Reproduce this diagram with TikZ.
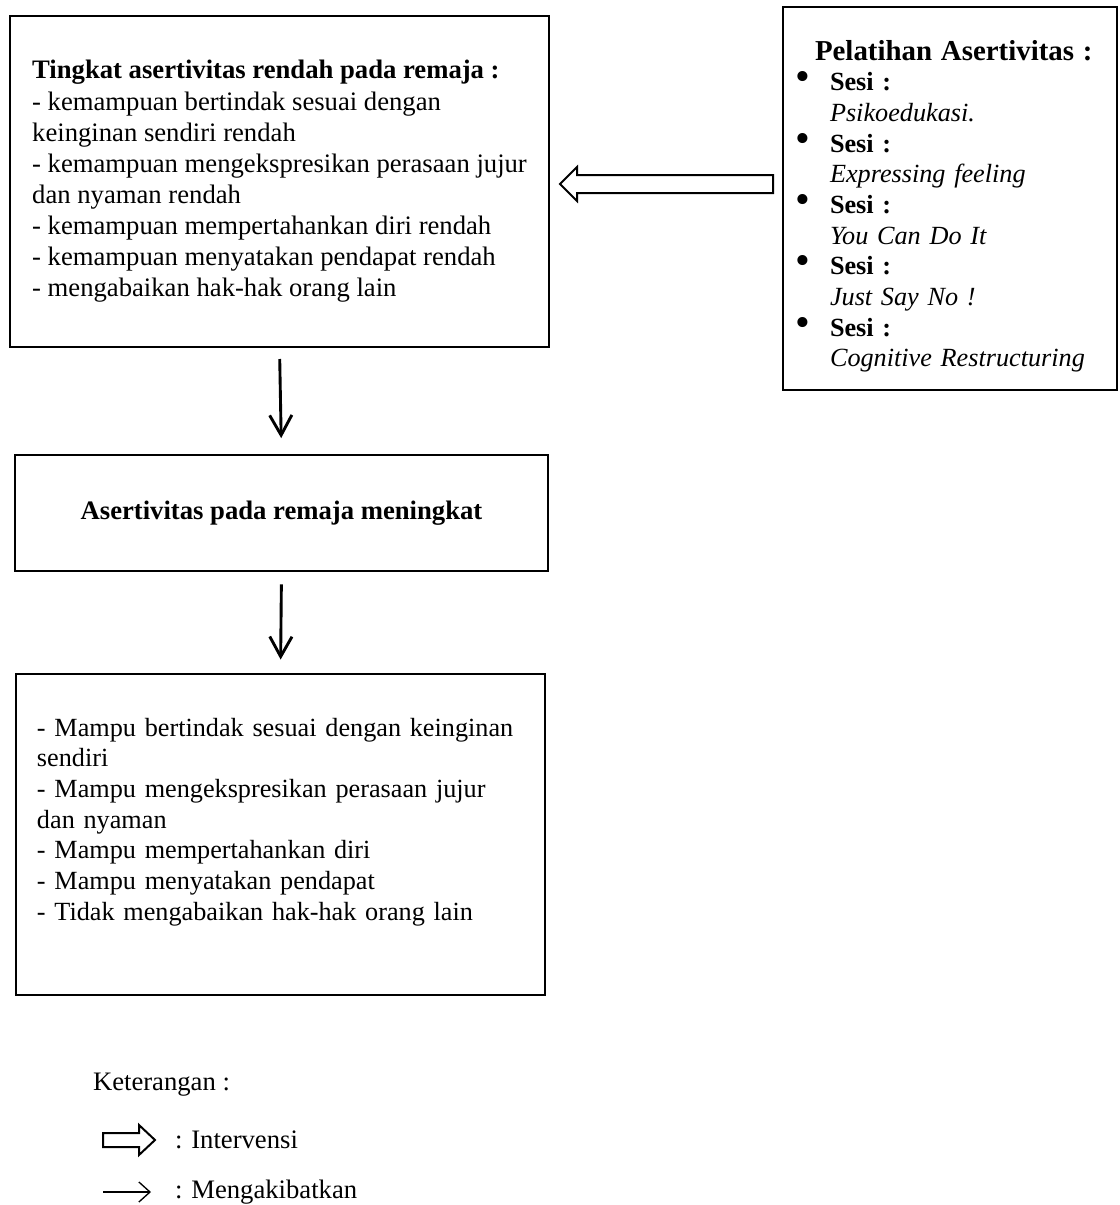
\documentclass[tikz,border=0pt]{standalone}
\usepackage{fontspec}
\setmainfont{Liberation Serif}
\usepackage{tikz}
\usetikzlibrary{arrows.meta,positioning}
\hyphenpenalty=10000
\exhyphenpenalty=10000
\tikzset{>/.tip={Straight Barb[length=9pt,width=10pt,line width=1.3pt]}}
\tikzset{kotak/.style={draw,line width=1.1pt,inner ysep=0pt,outer sep=0pt,align=left}}
\tikzset{panah/.style={->,line width=1.3pt}}
\tikzset{blok/.style={draw,line width=0.9pt,line join=miter}}
\tikzset{teks/.style={inner sep=0pt,outer sep=0pt}}
\newcommand{\sesi}[1]{\makebox[13.5pt][l]{\hspace*{-2pt}\fontsize{19}{13.8}\selectfont\textbullet}\textbf{Sesi :}\\
  \hspace*{13.5pt}\textit{#1}}

\begin{document}
\begin{tikzpicture}[x=0.45pt,y=-0.45pt,font=\fontsize{11.8}{13.8}\selectfont]
        \useasboundingbox (0,0) rectangle (1119,1205);
        % kotak kiri atas
        \node(rendah)[kotak,minimum width=242.55pt,minimum height=148.95pt,font=\fontsize{12}{14}\selectfont] at (279.5,181.5)
        {\textbf{Tingkat asertivitas rendah pada remaja :}\\
        - kemampuan bertindak sesuai dengan\\
        keinginan sendiri rendah\\
        - kemampuan mengekspresikan perasaan jujur\\
        dan nyaman rendah\\
        - kemampuan mempertahankan diri rendah\\
        - kemampuan menyatakan pendapat rendah\\
        - mengabaikan hak-hak orang lain};
        % kotak pelatihan
        \node(latihan)[kotak,text width=135pt,inner xsep=7.65pt,minimum height=172.35pt] at (950,198.5)
        {\rule{0pt}{16pt}\hspace*{6.75pt}{\fontsize{13}{13.8}\selectfont\textbf{Pelatihan Asertivitas :}}\\
        \sesi{Psikoedukasi.}\\
        \sesi{Expressing feeling}\\
        \sesi{You Can Do It}\\
        \sesi{Just Say No !}\\
        \sesi{Cognitive Restructuring}};
        \node(meningkat)[kotak,align=center,minimum width=239.85pt,minimum height=52.2pt,font=\fontsize{12}{13.8}\selectfont] at (281.5,513)
        {\textbf{Asertivitas pada remaja meningkat}};
        \node(hasil)[kotak,text width=219.15pt,inner xsep=9.45pt,minimum height=144.45pt] at (280.5,834.5)
        {- Mampu bertindak sesuai dengan keinginan\\
        sendiri\\
        - Mampu mengekspresikan perasaan jujur\\
        dan nyaman\\
        - Mampu mempertahankan diri\\
        - Mampu menyatakan pendapat\\
        - Tidak mengabaikan hak-hak orang lain\\
        \mbox{}};
        \draw[panah,shorten <=5.4pt,shorten >=7.6pt] (rendah.south) -- (meningkat.north);
        \draw[panah,shorten <=6pt,shorten >=6.5pt] (meningkat.south) -- (hasil.north);
        % panah intervensi
        \coordinate(pangkal) at (773,184);
        \draw[blok] (pangkal) ++(0,-9) -- ++(-196,0) -- ++(0,-8) -- ++(-17,17)
          -- ++(17,17) -- ++(0,-8) -- ++(196,0) -- cycle;
        % keterangan
        \node(ket)[teks,anchor=west,font=\fontsize{12}{13.8}\selectfont] at (93,1085) {Keterangan :};
        \coordinate(iv1) at (103,1140);
        \coordinate(iv2) at (155,1140);
        \draw[blok] (iv1) ++(0,-7) -- ++(36,0) -- ++(0,-8) -- (iv2)
          -- ++(-16,15) -- ++(0,-8) -- ++(-36,0) -- cycle;
        \node(intervensi)[teks,right=9pt of iv2,font=\fontsize{12}{13.8}\selectfont] {: Intervensi};
        \coordinate(ak1) at (103,1192);
        \coordinate(ak2) at (151,1192);
        \draw[line width=0.6pt,-{Straight Barb[length=5pt,width=9pt]}] (ak1) -- (ak2);
        \node(akibat)[teks,right=10.8pt of ak2,font=\fontsize{12}{13.8}\selectfont] {: Mengakibatkan};
      \end{tikzpicture}
\end{document}
